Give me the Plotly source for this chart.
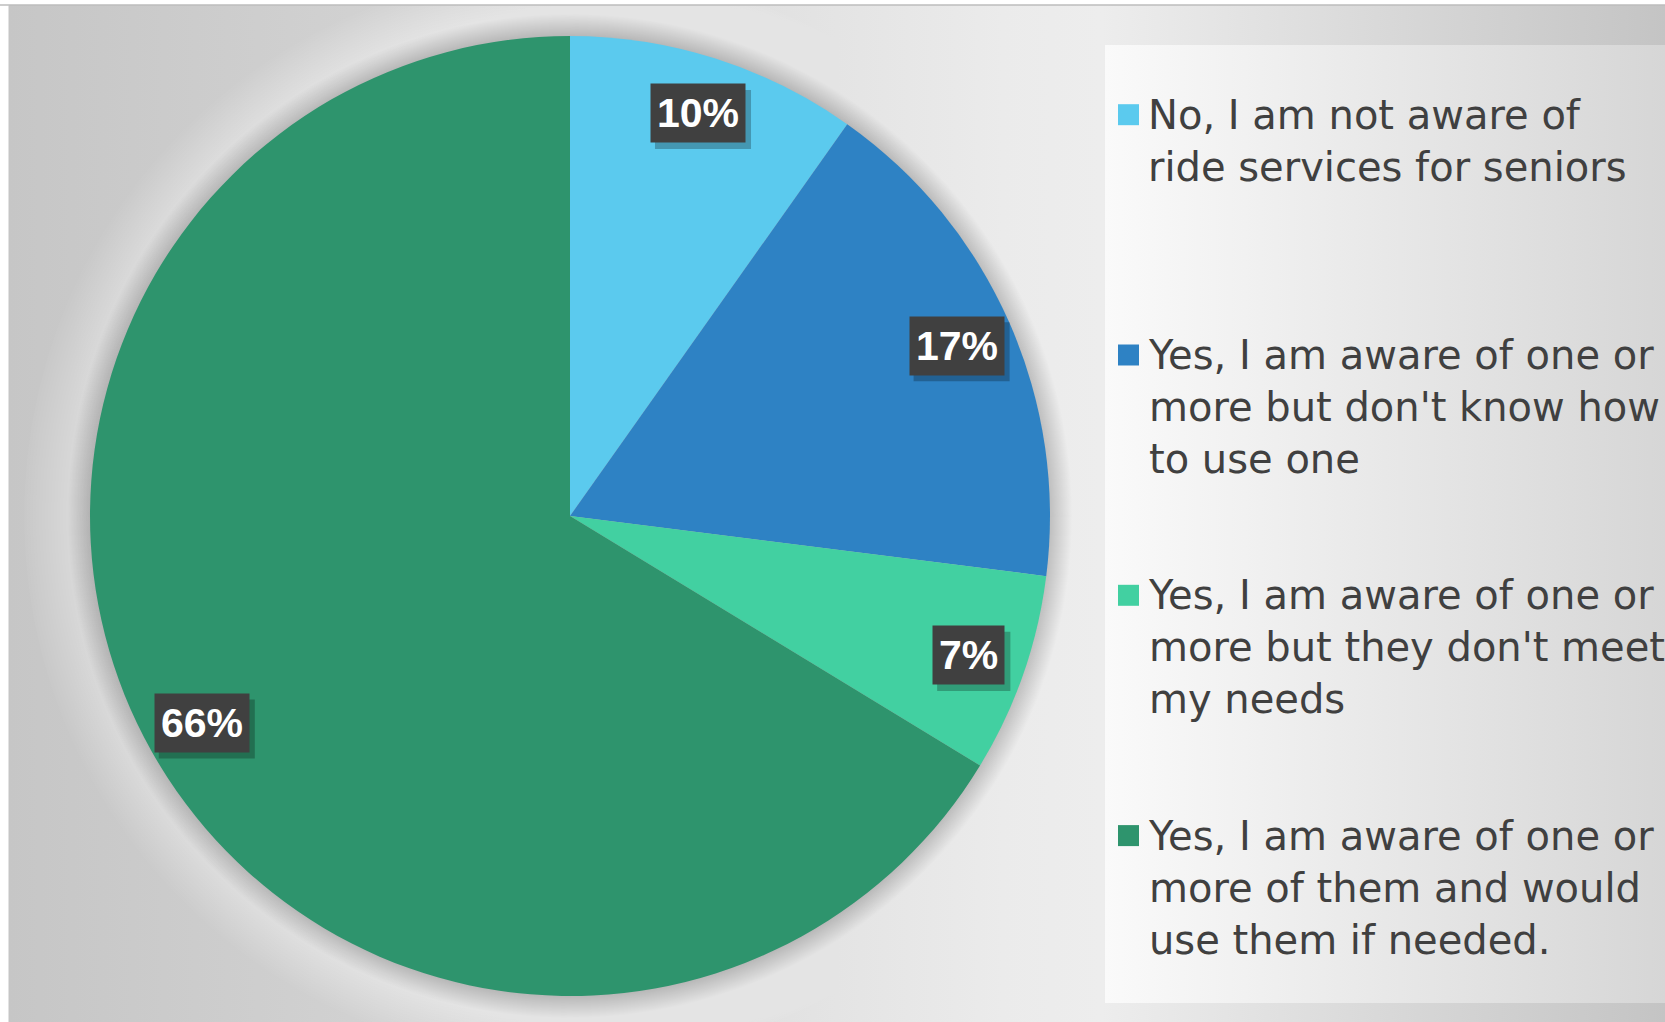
import numpy as np
import plotly.graph_objects as go

# ---------------- data ----------------
categories = [
    "No, I am not aware of<br>ride services for seniors",
    "Yes, I am aware of one or<br>more but don't know how<br>to use one",
    "Yes, I am aware of one or<br>more but they don't meet<br>my needs",
    "Yes, I am aware of one or<br>more of them and would<br>use them if needed.",
]
shares = [9.8, 17.2, 6.7, 66.3]
colors = ["#5BCAEE", "#2E82C4", "#42D0A1", "#2E946D"]

# ---------------- geometry (pixels) ----------------
W, H = 1665, 1022
cx, cy, R = 570, 516, 480
bx0, by0 = 9, 5          # chart area starts here (white strip outside)

fig = go.Figure()

# background gradient area
fig.add_trace(go.Scatter(
    x=[bx0, W, W, bx0, bx0], y=[by0, by0, H, H, by0],
    mode="lines", line=dict(width=0), fill="toself",
    fillgradient=dict(type="horizontal",
                      colorscale=[[0, "#c6c6c6"], [0.3, "#d6d6d6"], [0.6, "#ebebeb"],
                                  [0.66, "#ededed"], [1, "#c4c4c4"]]),
    hoverinfo="skip", showlegend=False))

# soft light glow + dark shadow around the pie
t = np.linspace(0, 2 * np.pi, 721)
glow = [(dr, "rgba(255,255,255,0.035)") for dr in range(66, 0, -3)]
shadow = [(dr, "rgba(0,0,0,0.0095)") for dr in range(22, 0, -1)]
for dr, col in glow + shadow:
    fig.add_trace(go.Scatter(
        x=cx + (R + dr) * np.cos(t), y=cy + (R + dr) * np.sin(t),
        mode="lines", line=dict(width=0), fill="toself", fillcolor=col,
        hoverinfo="skip", showlegend=False))

# legend box with gradient
lx0, ly0, lx1, ly1 = 1105, 45, W, 1003
fig.add_trace(go.Scatter(
    x=[lx0, lx1, lx1, lx0, lx0], y=[ly0, ly0, ly1, ly1, ly0],
    mode="lines", line=dict(width=0), fill="toself",
    fillgradient=dict(type="horizontal",
                      colorscale=[[0, "#fafafa"], [1, "#d6d6d6"]]),
    hoverinfo="skip", showlegend=False))

# pie
fig.add_trace(go.Pie(
    labels=[c.replace("<br>", " ") for c in categories], values=shares,
    sort=False, direction="clockwise", rotation=0,
    marker=dict(colors=colors, line=dict(width=0)),
    textinfo="none", hoverinfo="label+percent", showlegend=False,
    domain=dict(x=[(cx - R) / W, (cx + R) / W],
                y=[(H - cy - R) / H, (H - cy + R) / H])))

# data labels (positions derived from the values)
fs, pad = 41, 6
total = sum(shares)
cum = 0.0
for v in shares:
    mid = (cum + v / 2) / total * 2 * np.pi
    cum += v
    rr = 0.88 * R
    px = cx + rr * np.sin(mid)
    py = cy - rr * np.cos(mid)
    txt = f"{round(v / total * 100)}%"
    ndig = len(txt) - 1
    bw = fs * (0.556 * ndig + 0.889) + 2 * pad + 2
    bh = fs * 1.1 + 2 * pad + 2
    fig.add_shape(type="rect", xref="x", yref="y",
                  x0=px - bw / 2 + 5, x1=px + bw / 2 + 5, y0=py - bh / 2 + 6, y1=py + bh / 2 + 6,
                  fillcolor="rgba(0,0,0,0.25)", line=dict(width=0))
    fig.add_annotation(x=px, y=py, xref="x", yref="y", text=txt, showarrow=False,
                       font=dict(family="Liberation Sans", size=fs, color="white", weight="bold"),
                       bgcolor="#404040", borderpad=pad)

# manual legend
ly_first, ly_step = 114.7, 240.3
for i, (lab, col) in enumerate(zip(categories, colors)):
    yc = ly_first + i * ly_step
    fig.add_shape(type="rect", xref="x", yref="y", x0=1118, x1=1139, y0=yc - 10.5, y1=yc + 10.5,
                  fillcolor=col, line=dict(width=0))
    fig.add_annotation(x=1146, y=yc - 25, xref="x", yref="y", xanchor="left", yanchor="top",
                       align="left", text=lab, showarrow=False,
                       font=dict(family="DejaVu Sans", size=40, color="#404040"))

# top / left border lines
fig.add_shape(type="line", xref="paper", yref="paper", x0=0, x1=1,
              y0=(H - by0) / H, y1=(H - by0) / H, line=dict(color="#bdbdbd", width=1.5))
fig.add_shape(type="line", xref="paper", yref="paper", x0=bx0 / W, x1=bx0 / W,
              y0=0, y1=(H - by0) / H, line=dict(color="#c4c4c4", width=1))

fig.update_layout(
    width=W, height=H, margin=dict(l=0, r=0, t=0, b=0),
    paper_bgcolor="white", plot_bgcolor="rgba(0,0,0,0)",
    xaxis=dict(domain=[bx0 / W, 1], range=[bx0, W], visible=False, fixedrange=True),
    yaxis=dict(domain=[0, (H - by0) / H], range=[H, by0], visible=False, fixedrange=True),
    showlegend=False, hovermode=False,
)

fig.write_html("out.html", config={"displayModeBar": False},
               post_script="document.body.style.margin='0';")
